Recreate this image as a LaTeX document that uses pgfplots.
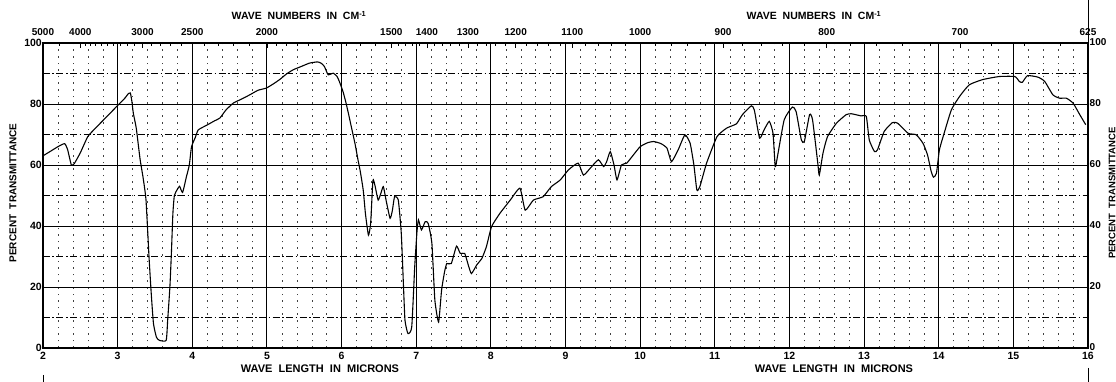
\documentclass[border=0pt]{standalone}
\usepackage{pgfplots}
\pgfplotsset{compat=1.18}
\usepackage{fontspec}
\setmainfont{Liberation Sans}

\pgfplotstableread{
x y
2.00 63
2.10 64.5
2.20 66
2.29 67
2.33 65
2.38 60
2.42 60.5
2.50 64
2.60 69.3
2.70 72
2.80 74.5
2.90 77
3.00 79.5
3.10 82
3.14 83.3
3.17 83.6
3.19 81
3.21 77
3.25 72
3.30 62
3.34 56
3.38 48.5
3.42 30
3.45 17.9
3.48 8
3.52 3.5
3.56 2.5
3.65 2.5
3.67 9
3.70 20
3.72 31
3.74 44
3.76 50
3.80 52
3.83 53
3.87 51
3.92 56
3.96 60
3.99 66
4.04 69
4.08 71.5
4.19 73
4.30 74.5
4.37 75.4
4.45 78
4.55 80.3
4.65 81.5
4.77 83
4.88 84.5
4.99 85.2
5.08 86.5
5.17 88
5.26 89.8
5.35 91.2
5.45 92.2
5.57 93.4
5.68 93.8
5.73 93.3
5.77 92.3
5.82 89.6
5.89 90.1
5.94 89
5.97 87.4
6.02 84
6.06 80.3
6.10 76
6.13 72.6
6.18 67
6.22 61.7
6.25 58
6.29 51.8
6.32 44
6.36 37
6.39 41
6.42 55
6.45 53
6.49 48.5
6.53 51
6.56 52.9
6.60 48
6.65 42.5
6.68 45
6.71 49.6
6.76 48.5
6.80 37.6
6.83 20
6.85 9
6.89 4.7
6.94 6.9
6.98 26.6
7.01 38
7.03 42
7.07 38.7
7.12 41.4
7.16 40.9
7.21 34.3
7.25 15.7
7.30 8.5
7.34 19
7.38 25
7.41 27.7
7.47 27.7
7.54 33.4
7.59 31
7.65 31
7.70 27
7.74 24.4
7.81 27.2
7.88 29.4
7.94 33.2
8.01 39.8
8.12 44.1
8.26 48.5
8.39 52.4
8.46 45.2
8.57 48.5
8.70 49.6
8.81 52.9
8.93 55.1
9.04 58.4
9.17 60.6
9.24 56.7
9.33 58.9
9.44 61.7
9.51 59.5
9.55 61
9.60 64.4
9.65 60
9.69 55.1
9.75 60
9.82 60.6
9.90 63
10.00 66
10.10 67.3
10.18 67.7
10.28 67
10.36 65.5
10.42 61.1
10.51 65
10.60 69.9
10.67 67.1
10.72 60
10.76 51.8
10.80 52.9
10.89 60.6
11.03 69.3
11.16 72.1
11.29 73.5
11.37 76.5
11.49 79.4
11.53 78
11.60 68.8
11.66 71.5
11.73 74.3
11.78 70.4
11.81 59.5
11.84 62.8
11.93 74.8
12.04 79
12.09 77.5
12.16 68.2
12.20 67.7
12.27 76.5
12.31 74.8
12.38 60.6
12.40 56.7
12.45 63.9
12.51 69.3
12.63 73.7
12.76 76.5
12.83 76.8
12.96 76.1
13.03 75.9
13.07 68.2
13.14 64.4
13.18 65
13.27 71
13.38 73.9
13.45 73.7
13.59 70.4
13.70 69.9
13.79 67.1
13.85 63.3
13.90 57.8
13.93 56
13.97 57.3
14.01 65
14.08 71
14.17 78.1
14.28 82.5
14.41 86.3
14.59 88
14.81 89
15.02 89
15.08 87.4
15.12 87.1
15.19 89.3
15.33 88.8
15.42 87.4
15.53 83
15.62 81.9
15.71 81.9
15.80 80.3
15.89 76.5
15.97 73.2
}\spectrum

\begin{document}
\begin{tikzpicture}[font=\bfseries]
\useasboundingbox (-43pt,-34pt) rectangle (1073pt,348pt);
\begin{axis}[
  at={(0,0)}, anchor=south west,
  scale only axis, width=1045pt, height=305pt,
  xmin=2, xmax=16, ymin=0, ymax=100,
  axis line style={line width=1.2pt},
  xtick={2,3,...,16}, ytick={0,20,...,100},
  minor x tick num=4, minor y tick num=1,
  grid=both,
  major grid style={black, line width=0.9pt},
  minor x grid style={black!75, line width=0.4pt, dash pattern=on 1.5pt off 5.1pt},
  minor y grid style={black, line width=0.4pt, dash pattern=on 7pt off 2.5pt on 1.5pt off 2.5pt},
  major tick length=0pt, minor tick length=0pt,
  /pgf/number format/assume math mode=true,
  tick label style={font=\bfseries\fontsize{10.5}{11}\selectfont},
  xticklabel style={inner sep=0pt, yshift=-4pt},
  yticklabel style={inner sep=1pt},
]
\addplot[black, line width=1.1pt, smooth, tension=0.3] table[x=x,y=y]{\spectrum};
\end{axis}
\begin{axis}[
  at={(0,0)}, anchor=south west,
  scale only axis, width=1045pt, height=305pt,
  xmin=2, xmax=16, ymin=0, ymax=100,
  axis x line*=top, axis y line*=right,
  axis line style={line width=1.2pt},
  xtick={2,2.5,3.3333,4,5,6.6667,7.1429,7.6923,8.3333,9.0909,10,11.1111,12.5,14.2857,16},
  xticklabels={5000,4000,3000,2500,2000,1500,1400,1300,1200,1100,1000,900,800,700,625},
  minor xtick={2.2222,2.5641,2.6316,2.7027,2.7778,2.8571,2.9412,3.0303,3.125,3.2258,3.4483,3.5714,3.7037,3.8462,4.1667,4.3478,4.5455,4.7619,5.1282,5.2632,5.4054,5.5556,5.7143,5.8824,6.0606,6.25,6.4516,6.7568,6.8493,6.9444,7.0423,7.2464,7.3529,7.4627,7.5758,7.8125,7.9365,8.0645,8.1967,8.4746,8.6207,8.7719,8.9286,9.2593,9.434,9.6154,9.8039,10.2041,10.4167,10.6383,10.8696,11.3636,11.6279,11.9048,12.1951,12.8205,13.1579,13.5135,13.8889,14.7059,15.1515,15.625},
  ytick={0,20,...,100},
  tick align=inside,
  major tick length=5pt, minor tick length=3pt,
  tick style={black, line width=0.6pt},
  /pgf/number format/assume math mode=true,
  tick label style={font=\bfseries\fontsize{10}{11}\selectfont},
  xticklabel style={yshift=4pt},
  yticklabel style={inner sep=0pt, xshift=1.5pt, yshift=1pt},
]
\end{axis}
\node[font=\bfseries\fontsize{11}{11}\selectfont, anchor=base] at (277pt,-25pt) {WAVE\ \ LENGTH\ \ IN\ \ MICRONS};
\node[font=\bfseries\fontsize{11}{11}\selectfont, anchor=base] at (791pt,-25pt) {WAVE\ \ LENGTH\ \ IN\ \ MICRONS};
\node[font=\bfseries\fontsize{10.5}{11}\selectfont, anchor=base] at (256pt,328pt) {WAVE\ \ NUMBERS\ \ IN\ \ CM\textsuperscript{-1}};
\node[font=\bfseries\fontsize{10.5}{11}\selectfont, anchor=base] at (771pt,328pt) {WAVE\ \ NUMBERS\ \ IN\ \ CM\textsuperscript{-1}};
\node[font=\bfseries\fontsize{10}{10}\selectfont, rotate=90] at (-30pt,155pt) {PERCENT\ \ TRANSMITTANCE};
\node[font=\bfseries\fontsize{9.5}{10}\selectfont, rotate=90] at (1069pt,155pt) {PERCENT\ \ TRANSMITTANCE};
\draw[line width=0.8pt] (1045pt,305pt) -- ++(0,43pt);
\draw[line width=0.8pt] (1045pt,-20pt) -- ++(0,-14pt);
\draw[line width=0.8pt] (0pt,-27pt) -- ++(0,-7pt);
\end{tikzpicture}
\end{document}
